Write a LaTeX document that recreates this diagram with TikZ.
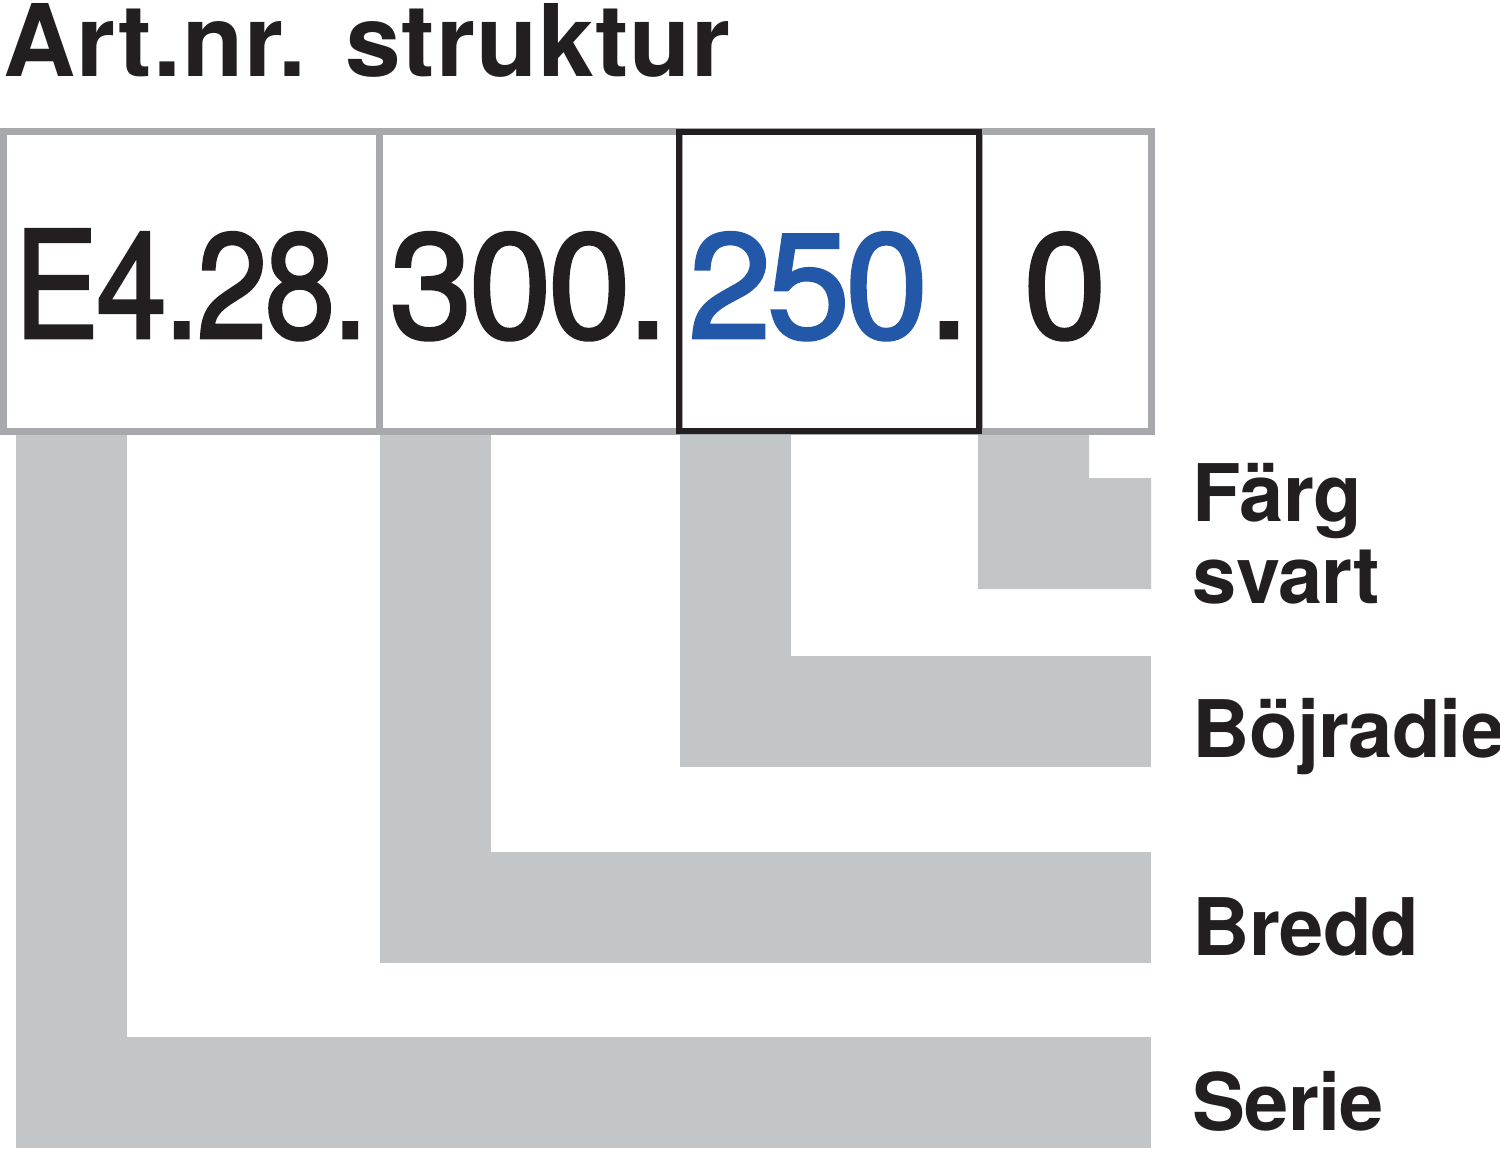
\documentclass[tikz,border=0pt]{standalone}
\usepackage{fontspec}
\setmainfont{TeX Gyre Heros}
\newfontfamily\numfont[FakeBold=2]{TeX Gyre Heros}
\usepackage{tikz}
\usetikzlibrary{positioning,calc,backgrounds}
\usepackage{xcolor}
\definecolor{frame}{HTML}{A7A9AC}
\definecolor{bargray}{HTML}{C3C6C8}
\definecolor{codeblue}{HTML}{2358A8}
\definecolor{ink}{HTML}{231F20}

\begin{document}
\begin{tikzpicture}[x=0.1mm,y=-0.1mm,
    cell/.style={draw=frame,line width=0.7mm,fill=white,inner sep=0pt,outer sep=0pt,text height=20.6mm,text depth=9.3mm,align=center,font=\numfont\fontsize{42.4}{42.4}\selectfont,text=ink},
    fieldname/.style={anchor=base west,inner sep=0pt,align=left,font=\bfseries\fontsize{22.6}{23.2}\selectfont\addfontfeature{LetterSpace=-1},text=ink},
    bar/.style={draw=bargray,line width=11.1mm}
  ]
    \useasboundingbox (0,0) rectangle (1500,1148);

    % Title
    \node[anchor=base west,inner sep=0pt,font=\bfseries\fontsize{28.5}{28.5}\selectfont\addfontfeature{LetterSpace=1},text=ink] (title) at (3,77) {Art.nr. struktur};

    % Article number fields
    \node[cell,minimum width=37.6mm,anchor=north west] (seriecell) at (3,132) {\scalebox{0.85}[1]{\addfontfeature{LetterSpace=-2}E4.28.}};
    \node[cell,minimum width=30mm,right=0pt of seriecell] (breddcell) {\addfontfeature{LetterSpace=-2.5}300.};
    \node[cell,minimum width=30mm,right=0pt of breddcell] (radiecell) {\addfontfeature{LetterSpace=-3}\textcolor{codeblue}{250}.};
    \node[cell,minimum width=17.2mm,right=0pt of radiecell] (fargcell) {0};
    \draw[ink,line width=0.6mm] (radiecell.south west) rectangle (radiecell.north east);

    % Field names
    \node[fieldname] (farg) at (1192,603) {Färg\\svart};
    \node[fieldname] (radie) at (1192,757) {Böjradie};
    \node[fieldname] (bredd) at (1192,955) {Bredd};
    \node[fieldname] (serie) at (1192,1130) {Serie};

    \coordinate (serie-end) at (1151,1092.5);
    \coordinate (bredd-end) at (1151,907.5);
    \coordinate (radie-end) at (1151,711);

    % Bars from fields to names
    \begin{scope}[on background layer]
      \draw[bar] ([xshift=6.85mm]seriecell.south west) |- (serie-end);
      \draw[bar] ([xshift=5.65mm]breddcell.south west) |- (bredd-end);
      \draw[bar] ([xshift=5.65mm]radiecell.south west) |- (radie-end);
      \fill[bargray] ([xshift=-0.1mm]fargcell.south west) -- ++(0,-15.8mm) -- ++(17.3mm,0) -- ++(0,11.1mm) -- ++(-6.2mm,0) |- ([xshift=-0.1mm]fargcell.south west) -- cycle;
    \end{scope}
  \end{tikzpicture}
\end{document}
